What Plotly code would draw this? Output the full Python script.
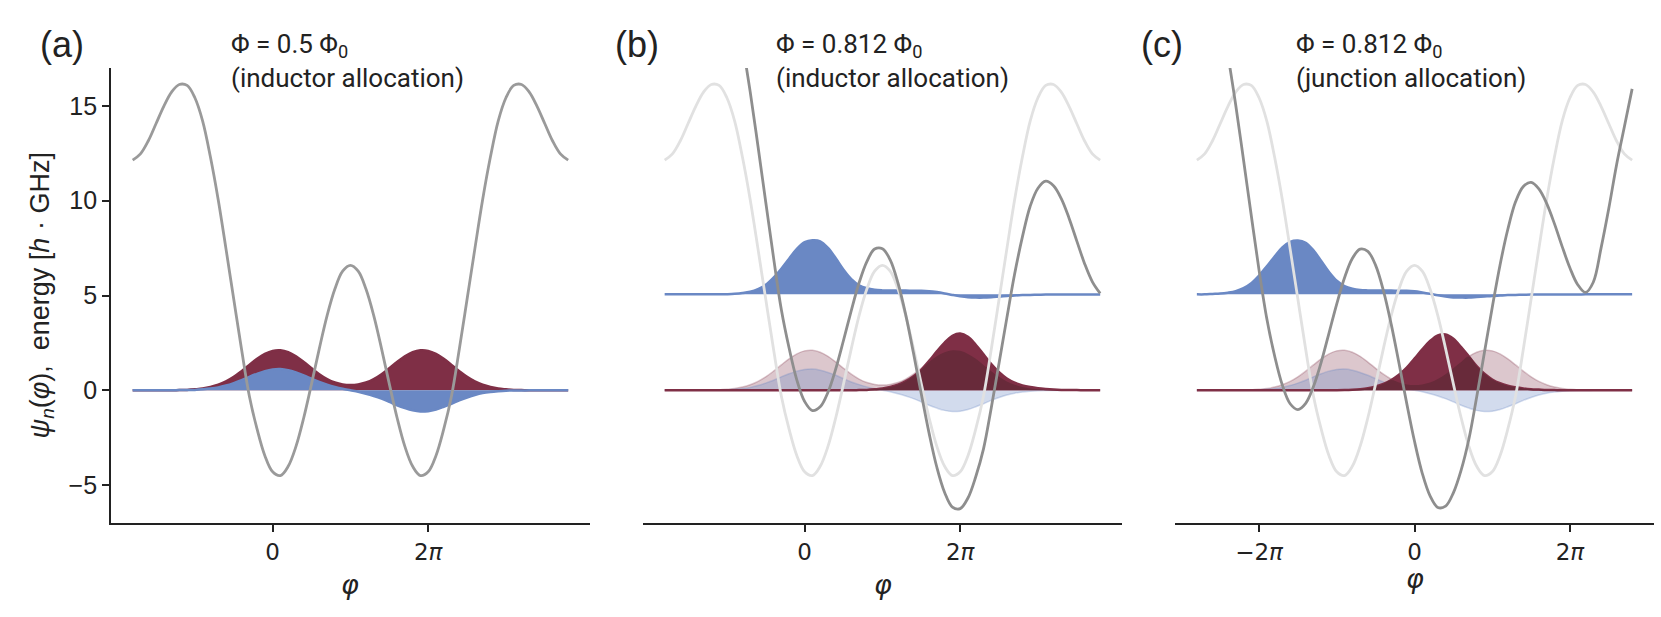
import numpy as np
import plotly.graph_objects as go

# phase grids, in units of pi
PHI_AB_PI = [-1.8, -1.7, -1.6, -1.5, -1.4, -1.3, -1.2, -1.1, -1.0, -0.9, -0.8, -0.7, -0.6, -0.5,
             -0.4, -0.3, -0.2, -0.1, 0.0, 0.1, 0.2, 0.3, 0.4, 0.5, 0.6, 0.7, 0.8, 0.9, 1.0, 1.1,
             1.2, 1.3, 1.4, 1.5, 1.6, 1.7, 1.8, 1.9, 2.0, 2.1, 2.2, 2.3, 2.4, 2.5, 2.6, 2.7, 2.8,
             2.9, 3.0, 3.1, 3.2, 3.3, 3.4, 3.5, 3.6, 3.7, 3.8]
PHI_C_PI = [-2.8, -2.7, -2.6, -2.5, -2.4, -2.3, -2.2, -2.1, -2.0, -1.9, -1.8, -1.7, -1.6, -1.5,
            -1.4, -1.3, -1.2, -1.1, -1.0, -0.9, -0.8, -0.7, -0.6, -0.5, -0.4, -0.3, -0.2, -0.1,
            0.0, 0.1, 0.2, 0.3, 0.4, 0.5, 0.6, 0.7, 0.8, 0.9, 1.0, 1.1, 1.2, 1.3, 1.4, 1.5, 1.6,
            1.7, 1.8, 1.9, 2.0, 2.1, 2.2, 2.3, 2.4, 2.5, 2.6, 2.7, 2.8]

# (a) flux 0.5, inductor allocation
U_A = [12.14, 12.47, 13.15, 14.06, 14.98, 15.73, 16.13, 16.08, 15.43, 14.2, 12.3, 10.05, 7.46, 4.8,
       2.16, -0.3, -2.05, -3.45, -4.3, -4.5, -4.01, -2.96, -1.45, 0.34, 2.2, 3.94, 5.34, 6.28, 6.59,
       6.28, 5.34, 3.94, 2.2, 0.34, -1.45, -2.96, -4.01, -4.5, -4.3, -3.45, -2.05, -0.3, 2.16, 4.8,
       7.46, 10.05, 12.3, 14.2, 15.43, 16.08, 16.13, 15.73, 14.98, 14.06, 13.15, 12.47, 12.14]
PSI0_A = [0, 0, 0, 0, 0, 0, 0.01, 0.02, 0.05, 0.09, 0.17, 0.29, 0.47, 0.71, 1.01, 1.34, 1.66, 1.92,
          2.08, 2.11, 2.01, 1.79, 1.49, 1.16, 0.85, 0.59, 0.41, 0.31, 0.28, 0.31, 0.41, 0.59, 0.85,
          1.16, 1.49, 1.79, 2.01, 2.11, 2.08, 1.92, 1.66, 1.34, 1.01, 0.71, 0.47, 0.29, 0.17, 0.09,
          0.05, 0.02, 0.01, 0, 0, 0, 0, 0, 0]
PSI1_A = [0, 0, 0, 0, 0, 0, 0.01, 0.01, 0.02, 0.05, 0.09, 0.15, 0.25, 0.38, 0.53, 0.71, 0.87, 1.01,
          1.10, 1.12, 1.06, 0.94, 0.79, 0.61, 0.44, 0.30, 0.18, 0.08, 0.0, -0.08, -0.18, -0.30,
          -0.44, -0.61, -0.79, -0.94, -1.06, -1.12, -1.10, -1.01, -0.87, -0.71, -0.53, -0.38, -0.25,
          -0.15, -0.09, -0.05, -0.02, -0.01, -0.01, 0, 0, 0, 0, 0, 0]
E0_A = 0.0
E1_A = 0.0

# (b) flux 0.812, inductor allocation
U_B = [20.94, 20.99, 21.38, 22.01, 22.65, 23.12, 23.23, 22.90, 21.97, 20.45, 18.27, 15.74, 12.87,
       9.92, 7.00, 4.26, 2.23, 0.54, -0.59, -1.07, -0.87, -0.10, 1.13, 2.64, 4.21, 5.67, 6.79, 7.45,
       7.47, 6.88, 5.66, 3.98, 1.95, -0.19, -2.26, -4.06, -5.39, -6.16, -6.24, -5.68, -4.56, -3.09,
       -0.92, 1.44, 3.82, 6.13, 8.09, 9.71, 10.66, 11.03, 10.79, 10.11, 9.08, 7.87, 6.68, 5.72, 5.11]
PSI0_B = [0, 0, 0, 0, 0, 0, 0, 0, 0, 0, 0, 0, 0, 0, 0, 0, 0, 0, 0, 0, 0, 0, 0, 0, 0, 0.01, 0.02,
          0.05, 0.09, 0.17, 0.29, 0.48, 0.74, 1.08, 1.55, 2.05, 2.52, 2.87, 2.99, 2.82, 2.40, 1.90,
          1.38, 0.95, 0.62, 0.40, 0.26, 0.17, 0.11, 0.07, 0.04, 0.02, 0.01, 0.01, 0, 0, 0]
PSI1_B = [0, 0, 0, 0, 0, 0, 0, 0, 0.01, 0.03, 0.07, 0.14, 0.28, 0.50, 0.88, 1.35, 1.88, 2.40, 2.75,
          2.85, 2.80, 2.45, 1.90, 1.30, 0.80, 0.48, 0.32, 0.24, 0.21, 0.20, 0.20, 0.20, 0.19, 0.19,
          0.17, 0.12, 0.05, -0.03, -0.10, -0.15, -0.17, -0.17, -0.15, -0.12, -0.09, -0.06, -0.04,
          -0.03, -0.02, -0.01, -0.01, -0.01, -0.01, -0.01, -0.01, -0.01, -0.01]
E0_B = 0.0
E1_B = 5.06

# (c) flux 0.812, junction allocation
U_C = [23.15, 22.68, 21.61, 19.93, 17.66, 15.05, 12.16, 9.22, 6.34, 3.77, 1.82, 0.27, -0.71, -1.02,
       -0.69, 0.20, 1.49, 3.02, 4.56, 5.94, 6.95, 7.45, 7.33, 6.59, 5.26, 3.49, 1.44, -0.69, -2.69,
       -4.38, -5.57, -6.18, -6.11, -5.41, -4.21, -2.57, -0.35, 2.01, 4.37, 6.60, 8.48, 9.94, 10.75,
       10.97, 10.63, 9.86, 8.79, 7.58, 6.45, 5.57, 5.16, 5.7, 7.5, 9.6, 11.9, 13.9, 15.9]
PSI0_C = [0, 0, 0, 0, 0, 0, 0, 0, 0, 0, 0, 0, 0, 0, 0, 0, 0, 0, 0, 0.01, 0.03, 0.06, 0.11, 0.20,
          0.34, 0.54, 0.82, 1.19, 1.67, 2.16, 2.60, 2.90, 2.95, 2.72, 2.28, 1.78, 1.28, 0.87, 0.57,
          0.37, 0.24, 0.16, 0.10, 0.06, 0.04, 0.02, 0.01, 0, 0, 0, 0, 0, 0, 0, 0, 0, 0]
PSI1_C = [0, 0, 0.02, 0.04, 0.09, 0.17, 0.33, 0.59, 0.99, 1.48, 2.00, 2.48, 2.77, 2.84, 2.72, 2.32,
          1.76, 1.18, 0.72, 0.44, 0.30, 0.23, 0.21, 0.20, 0.20, 0.20, 0.19, 0.19, 0.16, 0.10, 0.03,
          -0.05, -0.11, -0.16, -0.17, -0.17, -0.14, -0.11, -0.08, -0.06, -0.04, -0.03, -0.02, -0.01,
          -0.01, -0.01, -0.01, -0.01, -0.01, -0.01, 0, 0, 0, 0, 0, 0, 0]
E0_C = 0.0
E1_C = 5.06

TITLES = ["Φ = 0.5 Φ<sub>0</sub><br>(inductor allocation)",
          "Φ = 0.812 Φ<sub>0</sub><br>(inductor allocation)",
          "Φ = 0.812 Φ<sub>0</sub><br>(junction allocation)"]
PANELS = ["(a)", "(b)", "(c)"]

RED = "rgb(127,47,70)"
RED_DARK = "rgb(104,42,58)"
BLUE = "rgb(106,136,196)"
RED_FADE = "rgba(127,47,70,0.27)"
BLUE_FADE = "rgba(106,136,196,0.3)"
GREY = "#9a9a9a"
GREY_DARK = "#8e8e8e"
GREY_LIGHT = "#e1e1e1"
INK = "#222222"

phi_ab = np.array(PHI_AB_PI) * np.pi
phi_c = np.array(PHI_C_PI) * np.pi

fig = go.Figure()


def add_line(x, y, color, width, xa, ya):
    fig.add_trace(go.Scatter(x=x, y=y, mode="lines", xaxis=xa, yaxis=ya,
                             line=dict(color=color, width=width, shape="spline"),
                             hoverinfo="skip", showlegend=False))


def add_psi(x, psi, energy, line_color, fill_color, width, xa, ya):
    # invisible baseline at the level energy, then the wavefunction filled down to it
    fig.add_trace(go.Scatter(x=x, y=[energy] * len(x), mode="lines", xaxis=xa, yaxis=ya,
                             line=dict(width=0, shape="spline"),
                             hoverinfo="skip", showlegend=False))
    fig.add_trace(go.Scatter(x=x, y=np.array(psi) + energy, mode="lines", xaxis=xa, yaxis=ya,
                             line=dict(color=line_color, width=width, shape="spline"),
                             fill="tonexty", fillcolor=fill_color,
                             hoverinfo="skip", showlegend=False))


# ---- panel (a)
add_psi(phi_ab, PSI0_A, E0_A, RED, RED, 2.5, "x", "y")
add_psi(phi_ab, PSI1_A, E1_A, BLUE, BLUE, 2.5, "x", "y")
add_line(phi_ab, U_A, GREY, 2.8, "x", "y")

# ---- panel (b)
add_psi(phi_ab, PSI0_A, E0_A, RED_FADE, RED_FADE, 1.5, "x2", "y2")
add_psi(phi_ab, PSI1_A, E1_A, BLUE_FADE, BLUE_FADE, 1.5, "x2", "y2")
add_psi(phi_ab, PSI1_B, E1_B, BLUE, BLUE, 2.5, "x2", "y2")
add_psi(phi_ab, PSI0_B, E0_B, RED, RED, 2.5, "x2", "y2")
add_psi(phi_ab, np.minimum(PSI0_A, PSI0_B), E0_B, RED_DARK, RED_DARK, 0, "x2", "y2")
add_line(phi_ab, U_A, GREY_LIGHT, 2.8, "x2", "y2")
add_line(phi_ab, U_B, GREY_DARK, 2.8, "x2", "y2")

# ---- panel (c): panel (a) states re-drawn in junction coordinates (same grid, shifted by pi)
add_psi(phi_c, PSI0_A, E0_A, RED_FADE, RED_FADE, 1.5, "x3", "y3")
add_psi(phi_c, PSI1_A, E1_A, BLUE_FADE, BLUE_FADE, 1.5, "x3", "y3")
add_psi(phi_c, PSI1_C, E1_C, BLUE, BLUE, 2.5, "x3", "y3")
add_psi(phi_c, PSI0_C, E0_C, RED, RED, 2.5, "x3", "y3")
add_psi(phi_c, np.minimum(PSI0_A, PSI0_C), E0_C, RED_DARK, RED_DARK, 0, "x3", "y3")
add_line(phi_c, U_A, GREY_LIGHT, 2.8, "x3", "y3")
add_line(phi_c, U_C, GREY_DARK, 2.8, "x3", "y3")

W, H = 1661, 617
x_domains = [[111 / W, 590 / W], [643 / W, 1122 / W], [1175 / W, 1654 / W]]
y_domain = [(H - 523) / H, (H - 68) / H]
x_ranges = [[-6.53, 12.82], [-6.53, 12.82], [-9.68, 9.68]]
x_ticks = [[0, 2 * np.pi], [0, 2 * np.pi], [-2 * np.pi, 0, 2 * np.pi]]
x_text = [["0", "2<i>π</i>"], ["0", "2<i>π</i>"], ["−2<i>π</i>", "0", "2<i>π</i>"]]

axis_common = dict(showgrid=False, zeroline=False, ticks="outside", ticklen=7, tickwidth=1.8,
                   tickcolor=INK, linecolor=INK, linewidth=1.8)

layout = dict(width=W, height=H, margin=dict(l=0, r=0, t=0, b=0),
              plot_bgcolor="white", paper_bgcolor="white", showlegend=False)
for i in range(3):
    sx = "" if i == 0 else str(i + 1)
    layout["xaxis" + sx] = dict(axis_common, domain=x_domains[i], range=x_ranges[i],
                                anchor="y" + sx, showline=True, tickvals=x_ticks[i],
                                ticktext=x_text[i],
                                tickfont=dict(family="DejaVu Sans", size=23, color=INK))
    if i == 0:
        layout["yaxis"] = dict(axis_common, domain=y_domain, range=[-7, 17], anchor="x",
                               showline=True, tickvals=[-5, 0, 5, 10, 15],
                               ticktext=["−5", "0", "5", "10", "15"],
                               tickfont=dict(family="Liberation Sans", size=25, color=INK))
    else:
        layout["yaxis" + sx] = dict(domain=y_domain, range=[-7, 17], anchor="x" + sx,
                                    visible=False, showgrid=False, zeroline=False)

annotations = []
title_x = [229, 774, 1294]
panel_x = [38, 613, 1139]
xlabel_y = [584, 584, 578]
for i in range(3):
    annotations.append(dict(text=TITLES[i], x=title_x[i] / W, y=1 - 27 / H, xref="paper",
                            yref="paper", xanchor="left", yanchor="top", align="left",
                            showarrow=False, font=dict(family="Roboto", size=26, color=INK)))
    annotations.append(dict(text=PANELS[i], x=panel_x[i] / W, y=1 - 22 / H, xref="paper",
                            yref="paper", xanchor="left", yanchor="top", showarrow=False,
                            font=dict(family="Liberation Sans", size=36, color=INK)))
    cx = (x_domains[i][0] + x_domains[i][1]) / 2
    annotations.append(dict(text="<i>φ</i>", x=cx, y=1 - xlabel_y[i] / H, xref="paper",
                            yref="paper", xanchor="center", yanchor="middle", showarrow=False,
                            font=dict(family="DejaVu Sans", size=27, color=INK)))
annotations.append(dict(text="<i>ψ<sub>n</sub></i>(<i>φ</i>),\u00a0 energy [<i>h</i> · GHz]",
                        x=41.5 / W, y=1 - 296 / H, xref="paper", yref="paper",
                        xanchor="center", yanchor="middle", textangle=-90, showarrow=False,
                        font=dict(family="Liberation Sans", size=27, color=INK)))
layout["annotations"] = annotations

fig.update_layout(layout)
# the page's default body margin would push the 1661x617 figure off the window
fig.write_html("out.html", config={"displayModeBar": False},
               post_script="document.body.style.margin = '0px';")
